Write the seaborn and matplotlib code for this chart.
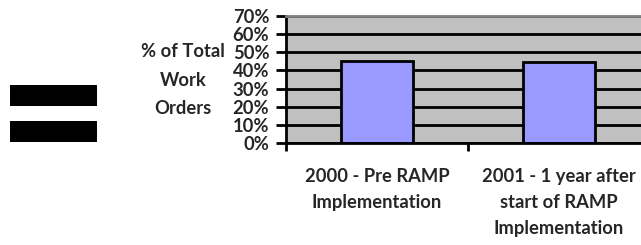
import matplotlib
matplotlib.use("Agg")
import matplotlib.pyplot as plt
import matplotlib.patches as mpatches
import seaborn as sns
import pandas as pd
from matplotlib.ticker import FixedLocator, FuncFormatter

# data
categories = ["2000 - Pre RAMP\nImplementation",
              "2001 - 1 year after\nstart of RAMP\nImplementation"]
pct_work_orders = [45.2, 44.8]
y_ticks = [0, 10, 20, 30, 40, 50, 60, 70]
y_label_lines = ["% of Total", "Work", "Orders"]

df = pd.DataFrame({"period": categories, "pct": pct_work_orders})

sns.set_style("white")
plt.rcParams["font.family"] = ["Lato", "DejaVu Sans"]
plt.rcParams["font.weight"] = "bold"

FS = 13.2
W, H = 641, 245
fig = plt.figure(figsize=(W / 100, H / 100), dpi=100)
fig.patch.set_facecolor("white")

# plot area runs past the right edge of the image, as in the reference
ax = fig.add_axes([286 / W, 102 / H, 364 / W, 127 / H])
ax.set_facecolor("#C0C0C0")

sns.barplot(data=df, x="period", y="pct", ax=ax, color="#9999FF",
            width=0.4, edgecolor="black", linewidth=2, saturation=1)

ax.set_xlim(-0.5, 1.5)
ax.set_ylim(0, 70)
ax.set_xlabel("")
ax.set_ylabel("")

ax.set_axisbelow(True)
ax.yaxis.set_major_locator(FixedLocator(y_ticks))
ax.yaxis.set_major_formatter(FuncFormatter(lambda v, p: f"{v:.0f}%"))
ax.yaxis.grid(True, color="black", linewidth=2)
ax.tick_params(axis="y", direction="out", length=7, width=2, color="black",
               labelsize=FS, pad=5, left=True)
for t in ax.get_yticklabels():
    t.set_fontweight("bold")

# category labels between boundary ticks
ax.set_xticks([-0.5, 0.5, 1.5])
ax.set_xticklabels([])
ax.tick_params(axis="x", which="major", direction="out", length=6, width=2,
               color="black", bottom=True)
ax.set_xticks([0, 1], minor=True)
ax.set_xticklabels(categories, minor=True, fontsize=FS, fontweight="bold",
                   linespacing=1.65)
ax.tick_params(axis="x", which="minor", length=0, pad=18)

for side in ["left", "bottom"]:
    ax.spines[side].set_color("black")
    ax.spines[side].set_linewidth(2)
ax.spines["top"].set_color("#808080")
ax.spines["top"].set_linewidth(2)
ax.spines["right"].set_visible(False)

# stacked axis title to the left of the tick labels
fig.text(183 / W, 1 - 80 / H, "\n".join(y_label_lines), ha="center",
         va="center", fontsize=FS, fontweight="bold", linespacing=1.82)

# the two black blocks on the left
fig.patches.append(mpatches.Rectangle((10 / W, 1 - 106 / H), 87 / W, 21 / H,
                                      transform=fig.transFigure,
                                      facecolor="black", edgecolor="none"))
fig.patches.append(mpatches.Rectangle((10 / W, 1 - 142 / H), 87 / W, 21 / H,
                                      transform=fig.transFigure,
                                      facecolor="black", edgecolor="none"))

fig.savefig("out.png", dpi=100)
